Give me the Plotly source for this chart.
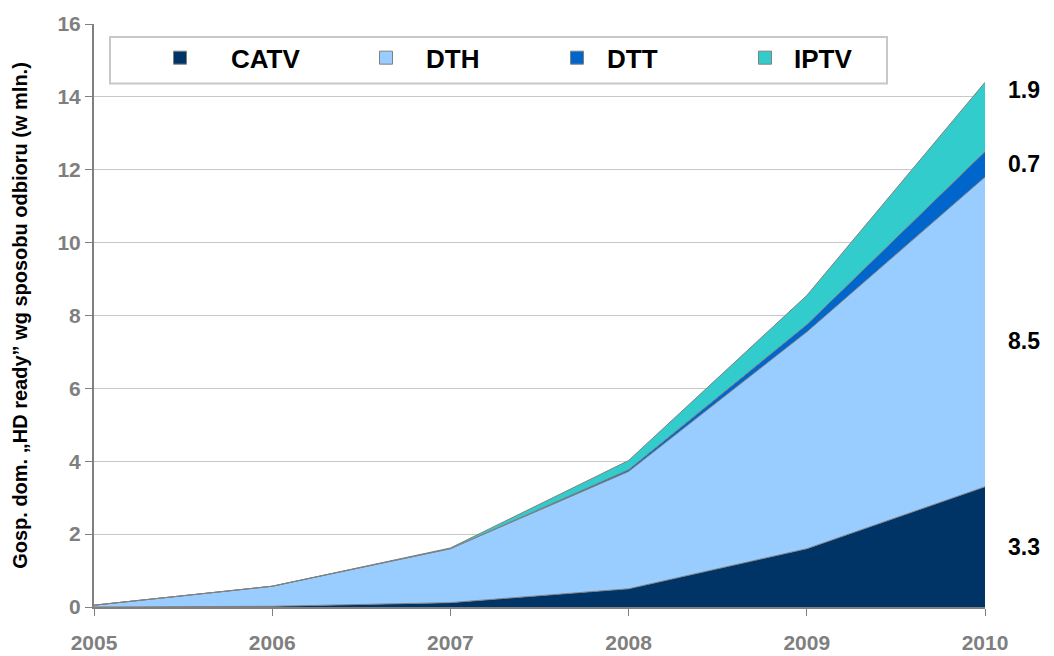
import plotly.graph_objects as go

years = [2005, 2006, 2007, 2008, 2009, 2010]
series_names = ["CATV", "DTH", "DTT", "IPTV"]
catv = [0.0, 0.02, 0.12, 0.5, 1.6, 3.3]
dth = [0.05, 0.55, 1.48, 3.22, 5.95, 8.5]
dtt = [0.0, 0.0, 0.0, 0.05, 0.2, 0.7]
iptv = [0.0, 0.0, 0.02, 0.25, 0.8, 1.9]
colors = ["#003366", "#99CCFF", "#0066CC", "#33CCCC"]
y_ticks = [0, 2, 4, 6, 8, 10, 12, 14, 16]
y_title = "Gosp. dom. „HD ready” wg sposobu odbioru (w mln.)"

values = [catv, dth, dtt, iptv]

# legend layout (pixel positions of symbol centre and text start)
PL, PW, PT, PH = 94, 891, 20, 587
legend_marker_px = [180, 386, 577, 765]
legend_text_px = [232, 427, 608, 795]
legend_ids = ["legend", "legend2", "legend3", "legend4"]

fig = go.Figure()
for name, vals, col in zip(series_names, values, colors):
    fig.add_trace(go.Scatter(
        x=years, y=vals, name=name, mode="lines",
        stackgroup="one", fillcolor=col,
        line=dict(color="#808080", width=1),
        showlegend=False, legendgroup=name,
    ))
# legend entries with square symbols
for name, col, lid in zip(series_names, colors, legend_ids):
    fig.add_trace(go.Scatter(
        x=[None], y=[None], name=name, mode="markers",
        marker=dict(symbol="square", size=13, color=col,
                    line=dict(color="#808080", width=1)),
        legendgroup=name, showlegend=True, legend=lid,
    ))

# right-side value labels for 2010
label_y = [1.65, 7.3, 12.15, 14.2]
for vals, ly in zip(values, label_y):
    fig.add_annotation(
        x=(1024 - PL) / PW, xref="paper", y=ly, yref="y",
        text=f"{vals[-1]:.1f}", showarrow=False,
        font=dict(family="Liberation Sans, Arial", size=23, color="#000000", weight="bold"),
        xanchor="center", yanchor="middle",
    )

# legend box
fig.add_shape(type="rect", xref="paper", yref="paper",
              x0=(110 - PL) / PW, x1=(887 - PL) / PW,
              y0=(PT + PH - 80) / PH, y1=(PT + PH - 33) / PH,
              line=dict(color="#c8c8c8", width=2), fillcolor="white", layer="above")

legend_font = dict(family="Liberation Sans, Arial", size=26, color="#000000", weight="bold")
legends = {}
for lid, mx, tx in zip(legend_ids, legend_marker_px, legend_text_px):
    iw = 2 * (tx - mx - 6)
    lx = mx - iw / 2 - 5
    legends[lid] = dict(
        orientation="h", x=(lx - PL) / PW, xanchor="left",
        y=(PT + PH - 54) / PH, yanchor="middle",
        bgcolor="rgba(0,0,0,0)", borderwidth=0,
        itemwidth=iw, font=legend_font,
    )

fig.update_layout(
    width=1054, height=656,
    margin=dict(l=94, r=69, t=20, b=49),
    paper_bgcolor="white", plot_bgcolor="white",
    showlegend=True,
    **legends,
    xaxis=dict(
        range=[2005, 2010], tickvals=years, ticktext=[str(y) for y in years],
        showgrid=False, showline=True, linecolor="#808080", linewidth=2,
        ticks="outside", tickcolor="#808080", ticklen=7, tickwidth=1,
        ticklabelstandoff=9, automargin=False,
        tickfont=dict(family="Liberation Sans, Arial", size=21, color="#7f7f7f", weight="bold"),
        zeroline=False,
    ),
    yaxis=dict(
        range=[0, 16], tickvals=y_ticks,
        showgrid=True, gridcolor="#c8c8c8", gridwidth=1,
        showline=True, linecolor="#808080", linewidth=2,
        ticks="outside", tickcolor="#808080", ticklen=7, tickwidth=1,
        tickfont=dict(family="Liberation Sans, Arial", size=21, color="#7f7f7f", weight="bold"),
        zeroline=False,
        title=dict(text=y_title, standoff=24,
                   font=dict(family="Liberation Sans, Arial", size=20, color="#000000", weight="bold")),
    ),
)

fig.write_html("out.html", config={"displayModeBar": False},
               post_script="document.body.style.margin='0';")
